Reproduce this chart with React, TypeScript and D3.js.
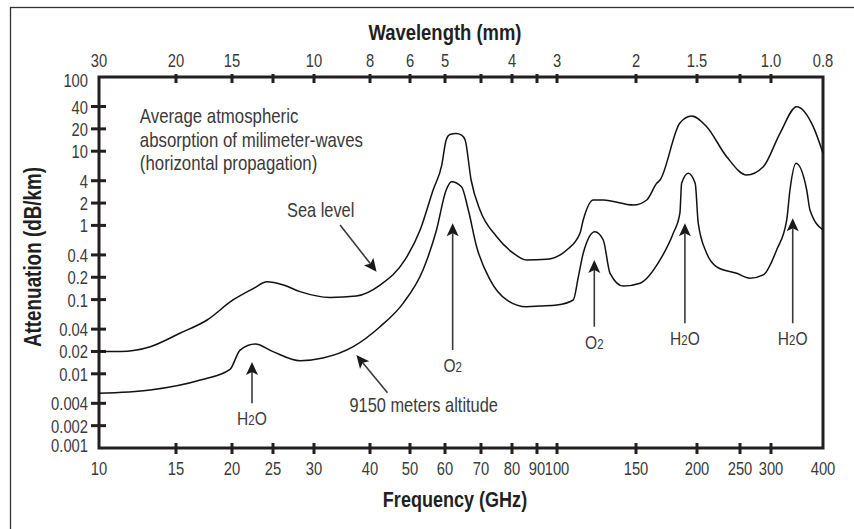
import * as d3 from "d3";
import { useEffect, useRef } from "react";

// axis values
const freqTicks = [10, 15, 20, 25, 30, 40, 50, 60, 70, 80, 90, 100, 150, 200, 250, 300, 400];
// the printed frequency axis is not a clean log scale, so it is calibrated piecewise
const freqAxisPx = [99, 176, 232, 273, 314, 370, 410, 445, 481, 512, 537, 557, 636, 697, 740, 771, 823];
const attenTicks = [100, 40, 20, 10, 4, 2, 1, 0.4, 0.2, 0.1, 0.04, 0.02, 0.01, 0.004, 0.002, 0.001];
const wavelengthLabels = ["30", "20", "15", "10", "8", "6", "5", "4", "3", "2", "1.5", "1.0", "0.8"];
const wavelengthAtGHz = [10, 15, 20, 30, 40, 50, 60, 80, 100, 150, 200, 300, 400];

// sea level curve
const seaLevelGHz = [
  10, 11.2, 13.1, 15.3, 17.6, 20.1, 22.5, 24.2, 26.2, 28.2, 32.6, 37.3, 42.3, 48.6, 52.7, 56.4,
  59.0, 60.3, 61.3, 62.9, 64.4, 65.4, 67.1, 69.7, 74.9, 80.4, 85.7, 94.7, 105.1, 112.5, 114.4,
  120.5, 126.8, 147.9, 157.8, 165.4, 168, 184.5, 195, 210.3, 233.3, 260, 286.7, 315.3, 345.8,
  379, 400,
];
const seaLevelDb = [
  0.02, 0.02, 0.0232, 0.0352, 0.0531, 0.0988, 0.142, 0.174, 0.157, 0.128, 0.107, 0.112, 0.157,
  0.342, 0.867, 3.0, 6.5, 14.2, 16.8, 17.3, 16.5, 14.2, 4.09, 1.61, 0.704, 0.425, 0.342, 0.349,
  0.466, 0.783, 1.18, 2.2, 2.2, 1.88, 2.2, 3.69, 4.09, 24, 29.8, 21.4, 8.43, 4.78, 6.18, 17.4,
  39.8, 21.4, 9.37,
];

// 9150 m altitude curve
const altitudeGHz = [
  10, 13.1, 17.0, 19.8, 20.9, 22.7, 25.0, 28.2, 31.4, 36.7, 42.3, 48.1, 53.5, 57.4, 60.3, 61.7,
  64.4, 66.3, 68.7, 72.8, 78.2, 85.7, 91.4, 100, 108.7, 111.6, 114.4, 121.5, 126.8, 131.3, 140.6,
  152.9, 168, 178.8, 184.5, 186, 191.9, 198.3, 201.3, 210.3, 221.5, 245.7, 265.2, 286.7, 309.5,
  327.2, 333.2, 344.5, 365.5, 372.2, 400,
];
const altitudeDb = [
  0.00546, 0.00605, 0.00825, 0.0115, 0.0209, 0.0252, 0.0199, 0.015, 0.0163, 0.0232, 0.0431,
  0.0891, 0.251, 0.867, 3.0, 3.88, 3.32, 1.61, 0.516, 0.184, 0.0988, 0.0802, 0.082, 0.0846,
  0.0988, 0.204, 0.421, 0.822, 0.636, 0.226, 0.152, 0.166, 0.342, 0.782, 1.46, 3.69, 5.04, 3.69,
  1.07, 0.421, 0.277, 0.226, 0.194, 0.215, 0.466, 1.18, 3.0, 6.87, 3.0, 1.61, 0.867,
];

// absorption lines
const lineMolecule = ["H2O", "O2", "O2", "H2O", "H2O"];
const lineGHz = [22.3, 62.0, 121.1, 188.9, 338.3];
const lineTipDb = [0.0144, 1.07, 0.342, 1.07, 1.25];
const lineTailDb = [0.004, 0.0209, 0.0431, 0.048, 0.048];

// curve notes
const noteText = ["Sea level", "9150 meters altitude"];
const noteGHz = [26.6, 36.0];
const noteDb = [1.31, 0.00308];
const noteFromGHz = [34.3, 44.1];
const noteFromDb = [1.01, 0.00556];
const noteToGHz = [41.5, 37.3];
const noteToDb = [0.238, 0.0179];

const captionLines = [
  "Average atmospheric",
  "absorption of milimeter-waves",
  "(horizontal propagation)",
];
const captionGHz = 12.4;
const captionDb = 23.8;

export default function App() {
  const ref = useRef<SVGSVGElement | null>(null);

  useEffect(() => {
    const svg = d3.select(ref.current);
    svg.selectAll("*").remove();

    const width = 854;
    const height = 529;
    const left = 99;
    const right = 823;
    const top = 77;
    const bottom = 448;
    const ink = "#231f20";
    const grey = "#3a3a3a";

    svg
      .attr("width", width)
      .attr("height", height)
      .style("font-family", "'Liberation Sans', Arial, sans-serif");

    // condensed look: Liberation Sans squeezed horizontally
    const narrow = (px: number, py: number) => `translate(${px},${py}) scale(0.82,1)`;

    const x = d3.scaleLog().domain(freqTicks).range(freqAxisPx);
    const y = d3.scaleLog().domain([0.001, 100]).range([bottom, top]);

    // outer border
    svg
      .append("rect")
      .attr("x", 10.5)
      .attr("y", 7.5)
      .attr("width", 900)
      .attr("height", 600)
      .attr("fill", "none")
      .attr("stroke", "#333")
      .attr("stroke-width", 1.3);

    // plot frame
    svg
      .append("rect")
      .attr("x", left)
      .attr("y", top)
      .attr("width", right - left)
      .attr("height", bottom - top)
      .attr("fill", "none")
      .attr("stroke", ink)
      .attr("stroke-width", 3);

    const inner = freqTicks.slice(1, -1);

    // bottom ticks + labels
    svg
      .append("g")
      .selectAll("line")
      .data(inner)
      .join("line")
      .attr("x1", (d) => x(d))
      .attr("x2", (d) => x(d))
      .attr("y1", bottom - 5)
      .attr("y2", bottom + 6)
      .attr("stroke", ink)
      .attr("stroke-width", 3);

    svg
      .append("g")
      .selectAll("text")
      .data(freqTicks)
      .join("text")
      .attr("transform", (d) => narrow(x(d), bottom + 27))
      .attr("text-anchor", "middle")
      .attr("fill", grey)
      .style("font-size", "18px")
      .text((d) => String(d));

    // top ticks + wavelength labels
    svg
      .append("g")
      .selectAll("line")
      .data(inner)
      .join("line")
      .attr("x1", (d) => x(d))
      .attr("x2", (d) => x(d))
      .attr("y1", top - 3)
      .attr("y2", top + 6)
      .attr("stroke", ink)
      .attr("stroke-width", 3);

    svg
      .append("g")
      .selectAll("text")
      .data(wavelengthLabels)
      .join("text")
      .attr("transform", (_, i) => narrow(x(wavelengthAtGHz[i]), top - 10.5))
      .attr("text-anchor", "middle")
      .attr("fill", grey)
      .style("font-size", "18px")
      .text((d) => d);

    // left ticks + labels
    svg
      .append("g")
      .selectAll("line")
      .data(attenTicks.slice(1, -1))
      .join("line")
      .attr("x1", left - 8)
      .attr("x2", left + 7)
      .attr("y1", (d) => y(d))
      .attr("y2", (d) => y(d))
      .attr("stroke", ink)
      .attr("stroke-width", 3);

    svg
      .append("g")
      .selectAll("text")
      .data(attenTicks)
      .join("text")
      .attr("transform", (d, i) =>
        narrow(left - 11, y(d) + (i === 0 ? 10 : i === attenTicks.length - 1 ? 4 : 7))
      )
      .attr("text-anchor", "end")
      .attr("fill", grey)
      .style("font-size", "18px")
      .text((d) => String(d));

    // axis titles
    svg
      .append("text")
      .attr("transform", narrow(445, 40))
      .attr("text-anchor", "middle")
      .attr("fill", ink)
      .style("font-size", "22.5px")
      .style("font-weight", "bold")
      .text("Wavelength (mm)");

    svg
      .append("text")
      .attr("transform", narrow(455, 507))
      .attr("text-anchor", "middle")
      .attr("fill", ink)
      .style("font-size", "22px")
      .style("font-weight", "bold")
      .text("Frequency (GHz)");

    svg
      .append("text")
      .attr("transform", "translate(41, 257) rotate(-90) scale(0.82,1)")
      .attr("text-anchor", "middle")
      .attr("fill", ink)
      .style("font-size", "23px")
      .style("font-weight", "bold")
      .text("Attenuation (dB/km)");

    // curves
    const line = d3
      .line<[number, number]>()
      .x((d) => x(d[0]))
      .y((d) => y(d[1]))
      .curve(d3.curveMonotoneX);

    const curves = [
      seaLevelGHz.map((f, i) => [f, seaLevelDb[i]] as [number, number]),
      altitudeGHz.map((f, i) => [f, altitudeDb[i]] as [number, number]),
    ];

    svg
      .append("g")
      .selectAll("path")
      .data(curves)
      .join("path")
      .attr("d", (d) => line(d) || "")
      .attr("fill", "none")
      .attr("stroke", "#111")
      .attr("stroke-width", 1.5);

    // arrow helper
    const arrow = (x1: number, y1: number, x2: number, y2: number) => {
      const len = Math.hypot(x2 - x1, y2 - y1);
      const ux = (x2 - x1) / len;
      const uy = (y2 - y1) / len;
      const head = 13;
      const half = 6;
      const bx = x2 - ux * head;
      const by = y2 - uy * head;
      const nx = bx + ux * 3;
      const ny = by + uy * 3;
      svg
        .append("line")
        .attr("x1", x1)
        .attr("y1", y1)
        .attr("x2", nx)
        .attr("y2", ny)
        .attr("stroke", grey)
        .attr("stroke-width", 1.6);
      svg
        .append("path")
        .attr(
          "d",
          `M${x2},${y2}L${bx - uy * half},${by + ux * half}L${nx},${ny}L${bx + uy * half},${by - ux * half}Z`
        )
        .attr("fill", "#1a1a1a");
    };

    // absorption line arrows + labels
    lineMolecule.forEach((m, i) => {
      const px = x(lineGHz[i]);
      const tail = y(lineTailDb[i]);
      arrow(px, tail, px, y(lineTipDb[i]));
      const t = svg
        .append("text")
        .attr("transform", narrow(px, tail + 22))
        .attr("text-anchor", "middle")
        .attr("fill", grey)
        .style("font-size", "19px");
      const parts = m.match(/[A-Z]+|\d+/g) || [];
      parts.forEach((p) => {
        const s = t.append("tspan").text(p);
        if (/\d/.test(p)) s.style("font-size", "14px");
      });
    });

    // curve notes
    noteText.forEach((txt, i) => {
      svg
        .append("text")
        .attr("transform", narrow(x(noteGHz[i]), y(noteDb[i])))
        .attr("fill", grey)
        .style("font-size", "20px")
        .text(txt);
      arrow(x(noteFromGHz[i]), y(noteFromDb[i]), x(noteToGHz[i]), y(noteToDb[i]));
    });

    // caption
    const cap = svg
      .append("text")
      .attr("transform", narrow(x(captionGHz), y(captionDb)))
      .attr("fill", grey)
      .style("font-size", "20.5px");
    captionLines.forEach((l, i) => {
      cap
        .append("tspan")
        .attr("x", 0)
        .attr("dy", i === 0 ? 0 : 23.5)
        .text(l);
    });
  }, []);

  return (
    <div style={{ position: "absolute", left: 0, top: 0, background: "#fff" }}>
      <svg ref={ref}></svg>
    </div>
  );
}
